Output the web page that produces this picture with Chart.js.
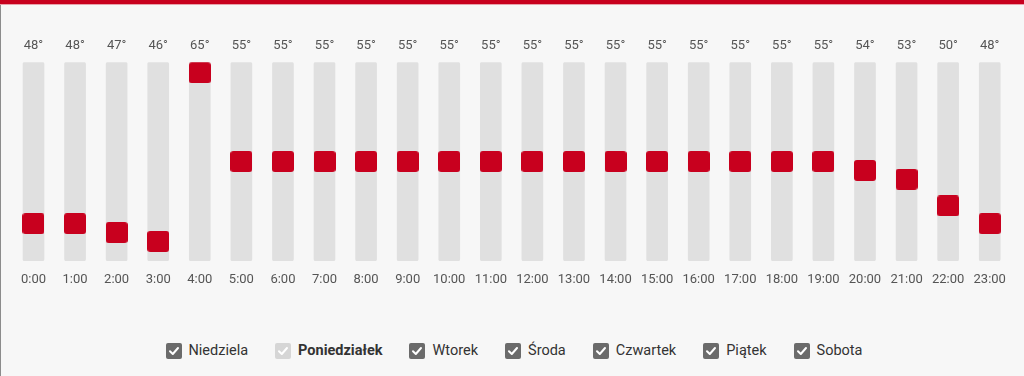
<!DOCTYPE html>
<html>
<head>
<meta charset="utf-8">
<script src="https://cdn.jsdelivr.net/npm/chart.js@4"></script>
<style>
html,body{margin:0;padding:0;background:#f7f7f7;width:1024px;height:376px;overflow:hidden;font-family:Roboto,"Noto Sans",sans-serif;}
.topbar{position:absolute;left:0;top:0;width:1024px;height:4px;background:#c8001e;border-bottom:1px solid #e7a2ab;}
.leftline{position:absolute;left:0;top:5px;bottom:0;width:1px;background:#8c8c8c;}
#wrap{position:absolute;left:0;top:0;width:1024px;height:300px;}
.legend{position:absolute;top:342px;left:2px;width:1024px;display:flex;justify-content:center;gap:27px;align-items:center;}
.item{display:flex;align-items:center;gap:7px;font-size:14.5px;color:#333;line-height:18px;}
.box{width:16px;height:16px;border-radius:2px;background:#6b6b6b;display:flex;align-items:center;justify-content:center;}
.item.dis .box{background:#d6d6d6;}
.item.bold{font-weight:bold;}
</style>
</head>
<body>
<div class="topbar"></div>
<div class="leftline"></div>
<div id="wrap"><canvas id="c"></canvas></div>
<div class="legend" id="legend"></div>
<script>
const hours = ['0:00','1:00','2:00','3:00','4:00','5:00','6:00','7:00','8:00','9:00','10:00','11:00','12:00','13:00','14:00','15:00','16:00','17:00','18:00','19:00','20:00','21:00','22:00','23:00'];
const temps = [48,48,47,46,65,55,55,55,55,55,55,55,55,55,55,55,55,55,55,55,54,53,50,48];
const tempLabels = temps.map(t => t + '°');
const days = ['Niedziela','Poniedziałek','Wtorek','Środa','Czwartek','Piątek','Sobota'];
const dayDisabled = [false,true,false,false,false,false,false];
const dayBold = [false,true,false,false,false,false,false];
const scaleMin = 43.8;
const scaleMax = 66.2;

// legend (HTML checkboxes)
const leg = document.getElementById('legend');
days.forEach((d,i) => {
  const it = document.createElement('div');
  it.className = 'item' + (dayDisabled[i] ? ' dis' : '') + (dayBold[i] ? ' bold' : '');
  it.innerHTML = '<div class="box"><svg width="12" height="12" viewBox="0 0 12 12"><polyline points="2,6.3 4.8,9 10,3" fill="none" stroke="#fff" stroke-width="2" stroke-linecap="round" stroke-linejoin="round"/></svg></div><span></span>';
  it.querySelector('span').textContent = d;
  leg.appendChild(it);
});

// marker image
const mk = document.createElement('canvas');
mk.width = 22; mk.height = 21;
const mctx = mk.getContext('2d');
mctx.fillStyle = '#c8001e';
mctx.beginPath();
if (mctx.roundRect) { mctx.roundRect(0,0,22,21,3); } else { mctx.rect(0,0,22,21); }
mctx.fill();

Chart.defaults.font.family = 'Roboto, "Noto Sans", sans-serif';
const tickFont = {size: 13};
new Chart(document.getElementById('c'), {
  data: {
    labels: hours,
    datasets: [
      {
        type: 'line',
        data: temps,
        showLine: false,
        pointStyle: mk,
        pointRadius: 11,
        pointHoverRadius: 11,
        order: 0,
        xAxisID: 'x',
        yAxisID: 'y'
      },
      {
        type: 'bar',
        data: hours.map(() => [scaleMin, scaleMax]),
        backgroundColor: '#e0e0e0',
        barThickness: 21,
        borderRadius: 2,
        borderSkipped: false,
        order: 1,
        xAxisID: 'x',
        yAxisID: 'y'
      }
    ]
  },
  options: {
    responsive: true,
    maintainAspectRatio: false,
    animation: false,
    events: [],
    layout: {padding: {left: 12.7, right: 13.5, top: 30, bottom: 1.5}},
    plugins: {legend: {display: false}, tooltip: {enabled: false}},
    scales: {
      x: {
        type: 'category', position: 'bottom', offset: true,
        grid: {display: false, drawTicks: false}, border: {display: false},
        ticks: {color: '#555', font: tickFont, padding: 11, maxRotation: 0, autoSkip: false}
      },
      x2: {
        type: 'category', position: 'top', offset: true, labels: tempLabels,
        grid: {display: false, drawTicks: false}, border: {display: false},
        ticks: {color: '#555', font: tickFont, padding: 8.3, maxRotation: 0, autoSkip: false}
      },
      y: {min: scaleMin, max: scaleMax, display: false}
    }
  }
});
</script>
</body>
</html>
